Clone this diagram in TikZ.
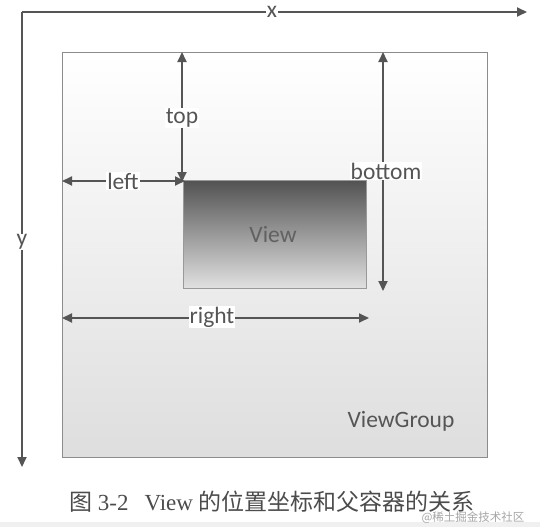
\documentclass[tikz,border=0pt]{standalone}
\usepackage{fontspec}
\setmainfont{Liberation Serif}
\newfontfamily\lbl{Carlito}
\newfontfamily\cjk{Noto Sans CJK SC}
\usetikzlibrary{arrows.meta}
\definecolor{ln}{HTML}{555555}
\tikzset{
  ax/.style={draw=ln, line width=1.8pt, -{Triangle[length=10pt,width=9pt]}},
  dim/.style={draw=ln, line width=1.8pt, {Triangle[length=10pt,width=9pt]}-{Triangle[length=10pt,width=9pt]}},
  lab/.style={font=\lbl\fontsize{23.5}{24}\selectfont, text=ln, fill=white, inner sep=1pt},
  lab2/.style={font=\lbl\fontsize{23.5}{24}\selectfont, text=ln, inner sep=1pt},
}
\begin{document}
\begin{tikzpicture}[x=1pt,y=-1pt]
\useasboundingbox (0,0) rectangle (540,527);
\fill[white] (0,0) rectangle (540,527);
\fill[black!6] (0,522) rectangle (540,527);
% ViewGroup
\shade[top color=white, bottom color=black!13] (62,52) rectangle (487,457);
\draw[black!45, line width=0.8pt] (62,52) rectangle (487,457);
\node[lab2] (vg) at (401,421) {ViewGroup};
% View
\shade[top color=black!68, bottom color=black!12] (183,180) rectangle (366,288);
\draw[black!40, line width=0.6pt] (183,180) rectangle (366,288);
\node[lab2, text=black!62] (v) at (273,234) {View};
% coordinates
\coordinate (o) at (22,12);
\coordinate (xe) at (527,12);
\coordinate (ye) at (22,467);
\draw[ax] (o) -- (xe);
\draw[ax] (o) -- (ye);
\node[lab, inner sep=0.5pt] (xl) at (272,12) {x};
\node[lab, inner sep=0.5pt] (yl) at (22,242) {y};
% dimension arrows
\coordinate (t1) at (182,52);
\coordinate (t2) at (182,182);
\draw[dim] (t1) -- (t2);
\node[lab] (tl) at (182,118) {top};
\coordinate (b1) at (383,52);
\coordinate (b2) at (383,291);
\draw[dim] (b1) -- (b2);
\node[lab] (bl) at (386,171) {bottom};
\coordinate (l1) at (62,181);
\coordinate (l2) at (185,181);
\draw[dim] (l1) -- (l2);
\node[lab] (ll) at (123,181) {left};
\coordinate (r1) at (62,318);
\coordinate (r2) at (369,318);
\draw[dim] (r1) -- (r2);
\node[lab] (rl) at (212,317) {right};
% caption
\node[text=black!70, inner sep=0pt] (cap) at (272,502) {\fontsize{23}{24}\selectfont{\cjk 图} 3-2\hspace{16pt}View {\cjk 的位置坐标和父容器的关系}};
\node[text=black!35, inner sep=0pt] (wm) at (473,518) {\fontsize{11.5}{12}\selectfont\cjk @稀土掘金技术社区};
\end{tikzpicture}
\end{document}
